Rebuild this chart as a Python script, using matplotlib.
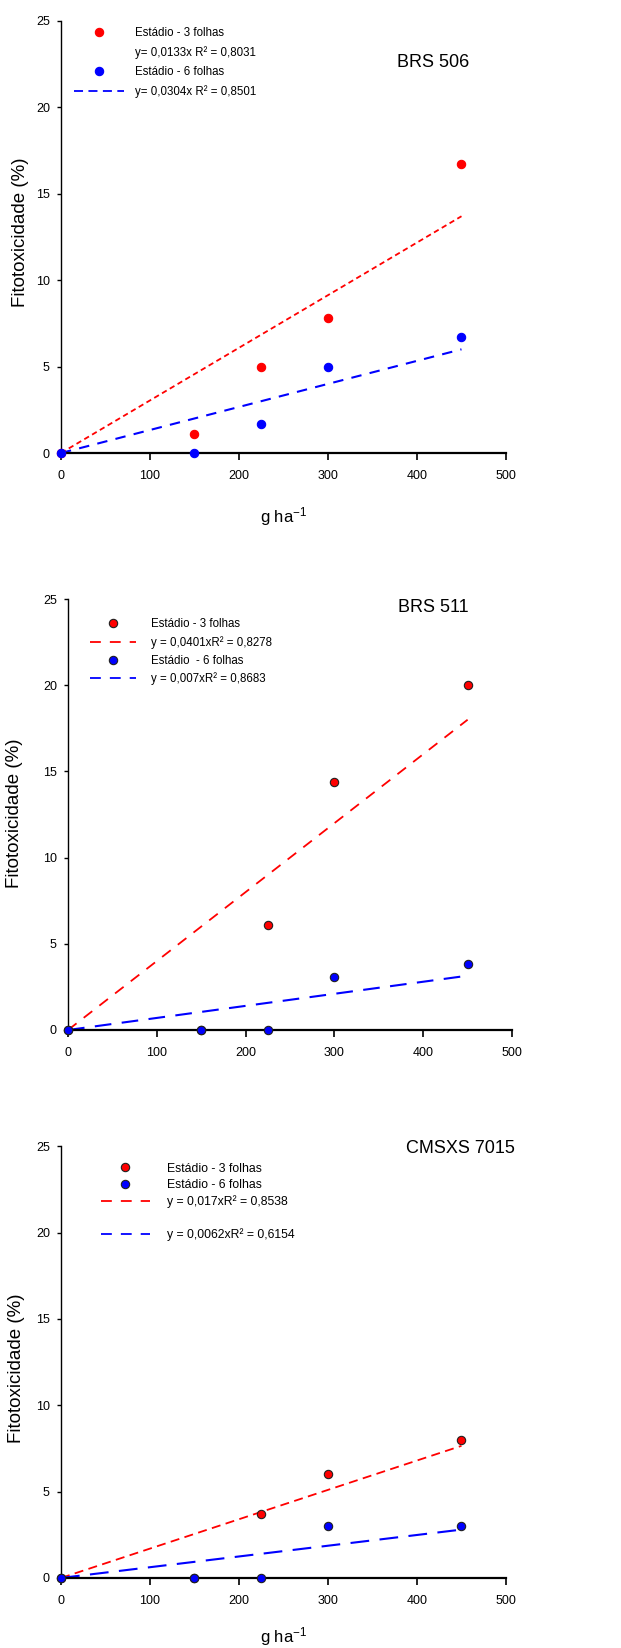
import matplotlib
matplotlib.use('Agg')
import matplotlib.pyplot as plt
from matplotlib.lines import Line2D

plt.rcParams['font.family'] = ['Liberation Sans', 'DejaVu Sans']
plt.rcParams['mathtext.default'] = 'regular'

# doses (g ha-1)
doses = [0, 150, 225, 300, 450]
fit_x = [0, 450]

# BRS 506
brs506_3f = [0, 1.1, 5.0, 7.8, 16.7]
brs506_6f = [0, 0, 1.7, 5.0, 6.7]
brs506_fit_3f = [0, 13.7]
brs506_fit_6f = [0, 6.0]

# BRS 511
brs511_3f = [0, 0, 6.1, 14.4, 20.0]
brs511_6f = [0, 0, 0, 3.1, 3.8]
brs511_fit_3f = [0, 18.0]
brs511_fit_6f = [0, 3.15]

# CMSXS 7015
cms_3f = [0, 0, 3.7, 6.0, 8.0]
cms_6f = [0, 0, 0, 3.0, 3.0]
cms_fit_3f = [0, 7.65]
cms_fit_6f = [0, 2.8]

RED = '#ff0000'
BLUE = '#0000ff'

fig = plt.figure(figsize=(6.21, 16.48), dpi=100)


def style_axes(ax):
    ax.set_xlim(0, 500)
    ax.set_ylim(0, 25)
    ax.set_xticks([0, 100, 200, 300, 400, 500])
    ax.set_yticks([0, 5, 10, 15, 20, 25])
    for s in ['top', 'right']:
        ax.spines[s].set_visible(False)
    ax.spines['bottom'].set_linewidth(1.6)
    ax.spines['left'].set_linewidth(1.0)
    ax.tick_params(axis='x', direction='out', length=5, width=1.2, pad=7, labelsize=9)
    ax.tick_params(axis='y', direction='out', length=3, width=1.0, pad=5, labelsize=9)


def draw_panel(ax, y3, y6, f3, f6, edge3, edge6, dash3, dash6):
    ax.plot(fit_x, f3, color=RED, lw=1.3, dashes=dash3, zorder=2)
    ax.plot(fit_x, f6, color=BLUE, lw=1.5, dashes=dash6, zorder=2)
    ax.plot(doses, y3, 'o', color=RED, ms=6, mec=edge3, mew=0.8, clip_on=False, zorder=3)
    ax.plot(doses, y6, 'o', color=BLUE, ms=6, mec=edge6, mew=0.8, clip_on=False, zorder=4)


def mk(color, edge):
    return Line2D([], [], ls='none', marker='o', color=color, ms=6, mec=edge, mew=0.8)


def ln(color, dash):
    return Line2D([], [], color=color, lw=1.3, dashes=dash)


blank = Line2D([], [], ls='none')

# ---- panel 1: BRS 506 ----
ax1 = fig.add_axes([0.0982, 0.7251, 0.7166, 0.2622])
style_axes(ax1)
draw_panel(ax1, brs506_3f, brs506_6f, brs506_fit_3f, brs506_fit_6f, RED, BLUE, (3, 2), (5, 4))
ax1.legend([mk(RED, RED), blank, mk(BLUE, BLUE), ln(BLUE, (5, 3))],
           ['Estádio - 3 folhas', 'y= 0,0133x R² = 0,8031',
            'Estádio - 6 folhas', 'y= 0,0304x R² = 0,8501'],
           loc='upper left', bbox_to_anchor=(0.03, 0.985), frameon=False,
           fontsize=8.3, handlelength=4.3, handletextpad=1.0, labelspacing=0.6,
           borderpad=0, borderaxespad=0)
ax1.text(0.836, 0.903, 'BRS 506', transform=ax1.transAxes, ha='center', va='center', fontsize=13)
ax1.set_xlabel('g ha$^{-1}$', fontsize=12)
ax1.xaxis.set_label_coords(0.5, -0.12)
ax1.set_ylabel('Fitotoxicidade (%)', fontsize=13.5)
ax1.yaxis.set_label_coords(-0.072, 0.512)

# ---- panel 2: BRS 511 ----
ax2 = fig.add_axes([0.1095, 0.375, 0.715, 0.2615])
style_axes(ax2)
draw_panel(ax2, brs511_3f, brs511_6f, brs511_fit_3f, brs511_fit_6f, '#202020', '#202020', (6, 5), (8, 5))
ax2.legend([mk(RED, '#202020'), ln(RED, (6, 5)), mk(BLUE, '#202020'), ln(BLUE, (6, 5))],
           ['Estádio - 3 folhas', 'y = 0,0401xR² = 0,8278',
            'Estádio  - 6 folhas', 'y = 0,007xR² = 0,8683'],
           loc='upper left', bbox_to_anchor=(0.05, 0.955), frameon=False,
           fontsize=8.3, handlelength=4.0, handletextpad=1.3, labelspacing=0.5,
           borderpad=0, borderaxespad=0)
ax2.text(0.822, 0.981, 'BRS 511', transform=ax2.transAxes, ha='center', va='center', fontsize=13)
ax2.set_ylabel('Fitotoxicidade (%)', fontsize=13.5)
ax2.yaxis.set_label_coords(-0.102, 0.503)

# ---- panel 3: CMSXS 7015 ----
ax3 = fig.add_axes([0.0982, 0.0425, 0.7166, 0.262])
style_axes(ax3)
draw_panel(ax3, cms_3f, cms_6f, cms_fit_3f, cms_fit_6f, '#202020', '#202020', (5, 3), (9, 5))
ax3.legend([mk(RED, '#202020'), mk(BLUE, '#202020'), ln(RED, (6, 5)), blank, ln(BLUE, (6, 5))],
           ['Estádio - 3 folhas', 'Estádio - 6 folhas', 'y = 0,017xR² = 0,8538',
            ' ', 'y = 0,0062xR² = 0,6154'],
           loc='upper left', bbox_to_anchor=(0.09, 0.962), frameon=False,
           fontsize=8.8, handlelength=4.0, handletextpad=1.4, labelspacing=0.35,
           borderpad=0, borderaxespad=0)
ax3.text(0.897, 0.995, 'CMSXS 7015', transform=ax3.transAxes, ha='center', va='center', fontsize=13)
ax3.set_xlabel('g ha$^{-1}$', fontsize=12)
ax3.xaxis.set_label_coords(0.5, -0.11)
ax3.set_ylabel('Fitotoxicidade (%)', fontsize=13.5)
ax3.yaxis.set_label_coords(-0.081, 0.486)

fig.savefig('out.png', dpi=100)
